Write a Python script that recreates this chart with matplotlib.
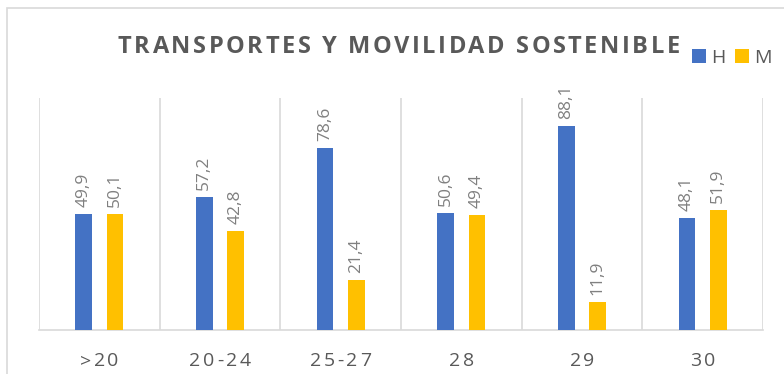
import matplotlib
matplotlib.use("Agg")
import matplotlib.pyplot as plt
from matplotlib.patches import Rectangle
import numpy as np

categories = [">20", "20-24", "25-27", "28", "29", "30"]
series_h = [49.9, 57.2, 78.6, 50.6, 88.1, 48.1]
series_m = [50.1, 42.8, 21.4, 49.4, 11.9, 51.9]
series_names = ["H", "M"]
title = "TRANSPORTES Y MOVILIDAD SOSTENIBLE"

BLUE = "#4472C4"
GOLD = "#FFC000"
GRID = "#D9D9D9"
TEXT = "#595959"
LABEL = "#808080"

W, H = 784, 374
fig = plt.figure(figsize=(W / 100, H / 100), dpi=100)
fig.patch.set_facecolor("white")
renderer = fig.canvas.get_renderer()


def text_width(s, **kw):
    t = fig.text(0, 0, s, **kw)
    w = t.get_window_extent(renderer).width
    t.remove()
    return w


def tracked_text(cx, base_y, s, track, **kw):
    """Draw s centred on pixel cx with extra spacing (px) between glyphs."""
    ends = [text_width(s[:i + 1], **kw) for i in range(len(s))]
    total = ends[-1] + track * (len(s) - 1)
    x0 = cx - total / 2
    for i, ch in enumerate(s):
        if ch == " ":
            continue
        fig.text((x0 + ends[i] + i * track) / W, base_y / H, ch,
                 ha="right", va="baseline", **kw)


# outer chart frame
fig.patches.append(Rectangle((7 / W, -0.2), 1.2, (H - 8) / H + 0.2,
                             transform=fig.transFigure, fill=False,
                             edgecolor=GRID, linewidth=1.2))

ax_left, ax_right, ax_top, ax_bot = 39, 763, 98, 330
ax = fig.add_axes([ax_left / W, (H - ax_bot) / H,
                   (ax_right - ax_left) / W, (ax_bot - ax_top) / H])
x = np.arange(len(categories))
bw = 0.14
off = 0.13
ax.bar(x - off, series_h, bw, color=BLUE, zorder=3)
ax.bar(x + off, series_m, bw, color=GOLD, zorder=3)

ax.set_xlim(-0.5, len(categories) - 0.5)
ax.set_ylim(0, 100)
ax.set_yticks([])
ax.set_xticks([])
ax.set_xticks(np.arange(-0.5, len(categories)), minor=True)
ax.tick_params(axis="x", which="both", length=0, labelbottom=False)
ax.grid(axis="x", which="minor", color=GRID, linewidth=1.2, zorder=0)
for s in ("left", "right", "top"):
    ax.spines[s].set_visible(False)
ax.spines["bottom"].set_color(GRID)
ax.spines["bottom"].set_linewidth(1.2)

for xs, vals in ((x - off, series_h), (x + off, series_m)):
    for xi, v in zip(xs, vals):
        ax.annotate(f"{v:.1f}".replace(".", ","), (xi, v), xytext=(0, 5),
                    textcoords="offset points", rotation=90, ha="center",
                    va="bottom", fontsize=12.5, color=LABEL,
                    family="Open Sans")

# category labels with spaced lettering
tick_kw = dict(fontsize=14, color=TEXT, family="Open Sans")
for xi, lab in zip(x, categories):
    px = ax.transData.transform((xi, 0))[0]
    tracked_text(px, H - 366, lab, 2.5, **tick_kw)

# spaced title
title_kw = dict(fontsize=17, fontweight="bold", color=TEXT, family="Open Sans")
natural = text_width(title, **title_kw)
track = (562 - natural) / (len(title) - 1)
tracked_text(399, H - 53, title, track, **title_kw)

# legend: swatch + label for each series, laid out in pixels
for (sx, lx), name, col in zip([(692, 711), (735, 754)], series_names,
                               [BLUE, GOLD]):
    fig.patches.append(Rectangle((sx / W, (H - 63) / H), 14 / W, 14 / H,
                                 transform=fig.transFigure, facecolor=col,
                                 edgecolor="none"))
    fig.text(lx / W, (H - 63) / H, name, ha="left", va="baseline",
             fontsize=14, color=TEXT, family="Open Sans")

fig.savefig("out.png", dpi=100)
